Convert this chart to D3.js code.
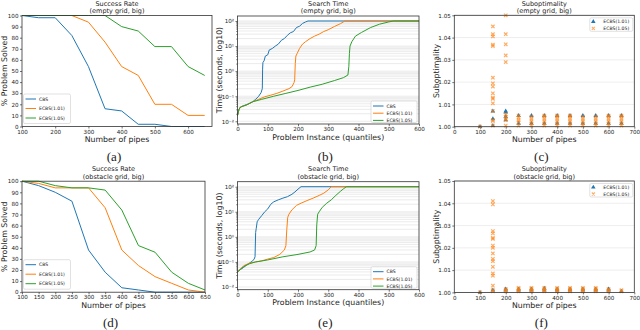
<!DOCTYPE html>
<html>
<head>
<meta charset="utf-8">
<script src="https://cdn.jsdelivr.net/npm/d3@7"></script>
<style>
body { margin: 0; background: #fff; }
svg { display: block; }
text { font-family: "DejaVu Sans", sans-serif; fill: #222; }
</style>
</head>
<body>
<svg id="fig" width="640" height="330"></svg>
<script>
// ---- data ----
var pipes = [100, 150, 200, 250, 300, 350, 400, 450, 500, 550, 600, 650];
var seriesNames = ['CBS', 'ECBS(1.01)', 'ECBS(1.05)'];
var colors = ['#1f77b4', '#ff7f0e', '#2ca02c'];

// success rate, empty grid
var succEmptyCBS = [100, 98, 98, 82, 54, 16, 14, 2, 2, 0, 0, 0];
var succEmptyE101 = [100, 100, 100, 100, 94, 76, 54, 46, 20, 20, 10, 10];
var succEmptyE105 = [100, 100, 100, 100, 100, 100, 90, 86, 72, 72, 54, 46];
// success rate, obstacle grid
var succObstCBS = [100, 96, 90, 82, 38, 18, 4, 2, 0, 0, 0, 0];
var succObstE101 = [100, 98, 94, 94, 94, 76, 38, 24, 14, 8, 2, 0];
var succObstE105 = [100, 100, 96, 94, 94, 92, 74, 42, 36, 18, 8, 2];

// search time [instance, seconds], empty grid
var timeEmptyCBS = [[0,0.017],[5,0.03],[10,0.037],[20,0.042],[30,0.046],[40,0.052],[50,0.06],[60,0.075],[70,0.1],[78,0.14],[82,0.2],[83,1.2],[84,2.2],[88,2.6],[92,4],[100,4.5],[105,7],[115,8],[125,10],[135,12],[145,17],[155,20],[165,27],[175,34],[185,38],[195,55],[205,62],[215,80],[225,92],[233,100],[600,100]];
var timeEmptyE101 = [[0,0.017],[5,0.03],[10,0.037],[30,0.045],[50,0.06],[70,0.075],[90,0.095],[110,0.11],[130,0.13],[150,0.16],[170,0.2],[180,0.24],[187,0.35],[189,0.45],[191,2],[193,4],[197,5],[205,8],[215,12],[225,15],[240,20],[255,25],[270,30],[285,38],[300,45],[320,60],[340,78],[355,100],[600,100]];
var timeEmptyE105 = [[0,0.017],[5,0.03],[10,0.037],[30,0.045],[50,0.06],[80,0.075],[120,0.1],[160,0.13],[200,0.17],[240,0.23],[280,0.3],[320,0.42],[350,0.55],[365,0.7],[368,1.5],[370,5],[372,10],[378,15],[390,25],[410,35],[440,55],[470,75],[500,92],[515,100],[600,100]];
// search time, obstacle grid
var timeObstCBS = [[0,0.04],[10,0.05],[20,0.06],[30,0.075],[40,0.09],[50,0.11],[55,0.13],[58,0.16],[60,1.5],[62,2.2],[65,4],[70,5],[80,7],[90,10],[100,13],[110,20],[120,25],[135,30],[150,35],[165,40],[180,50],[190,62],[200,80],[210,100],[600,100]];
var timeObstE101 = [[0,0.04],[20,0.07],[40,0.09],[60,0.1],[80,0.11],[100,0.13],[120,0.15],[140,0.2],[155,0.3],[160,0.45],[163,2],[166,6],[170,8],[180,12],[195,18],[210,22],[230,28],[250,35],[270,45],[285,55],[300,75],[310,100],[600,100]];
var timeObstE105 = [[0,0.04],[20,0.065],[40,0.085],[60,0.1],[100,0.12],[150,0.16],[200,0.2],[240,0.25],[255,0.3],[260,0.45],[262,3],[265,8],[270,10],[280,15],[295,22],[310,30],[325,45],[340,65],[350,82],[360,100],[600,100]];

// suboptimality [pipes, ratio], empty grid
var subEmptyE101 = [[100,1.000],[150,1.007],[150,1.0035],[150,1.0005],[200,1.007],[200,1.0065],[200,1.0045],[200,1.003],
  [250,1.005],[250,1.0015],[300,1.005],[300,1.0015],[350,1.005],[350,1.0015],[400,1.005],[400,1.0015],[450,1.005],[450,1.0015],
  [500,1.005],[500,1.0015],[550,1.005],[550,1.0015],[600,1.005],[600,1.0015],[650,1.005],[650,1.0015]];
var subEmptyE105 = [[100,1.000],
  [150,1.045],[150,1.0415],[150,1.0405],[150,1.0368],[150,1.0362],[150,1.022],[150,1.0195],[150,1.018],[150,1.015],[150,1.013],[150,1.0125],[150,1.0105],[150,1.007],[150,1.003],[150,1.0025],[150,1.0005],
  [200,1.050],[200,1.0415],[200,1.037],[200,1.032],[200,1.029],[200,1.0055],[200,1.0045],[200,1.0035],[200,1.003],[200,1.0005],
  [250,1.0005],[250,1.002],[250,1.003],[250,1.004],[250,1.005],
  [300,1.0005],[300,1.0015],[300,1.0025],[300,1.0035],[300,1.0045],
  [350,1.0005],[350,1.0015],[350,1.0025],[350,1.0035],[350,1.0045],[350,1.005],
  [400,1.0005],[400,1.0015],[400,1.0025],[400,1.0035],[400,1.0045],[400,1.005],
  [450,1.0005],[450,1.0015],[450,1.0025],[450,1.0035],[450,1.0045],[450,1.005],
  [500,1.0005],[500,1.0015],[500,1.0025],[500,1.0035],[500,1.0045],
  [550,1.0005],[550,1.0015],[550,1.0025],[550,1.0035],[550,1.0045],
  [600,1.0005],[600,1.0015],[600,1.0025],[600,1.0035],[600,1.0045],[600,1.005],
  [650,1.0005],[650,1.0015],[650,1.0025],[650,1.0035],[650,1.0045],[650,1.005]];
// suboptimality, obstacle grid
var subObstE101 = [[100,1.000],[150,1.001],[200,1.001],[200,1.0015],[250,1.001],[250,1.0015],[300,1.001],[300,1.0015],[350,1.001],[350,1.0018],
  [400,1.001],[400,1.0015],[450,1.001],[450,1.0015],[500,1.001],[500,1.0015],[550,1.001],[550,1.0015],[600,1.001],[600,1.0015],[650,1.0005]];
var subObstE105 = [[100,1.000],
  [150,1.041],[150,1.0395],[150,1.0275],[150,1.0265],[150,1.0245],[150,1.024],[150,1.021],[150,1.020],[150,1.0175],[150,1.015],[150,1.014],[150,1.0115],[150,1.0085],[150,1.0075],[150,1.003],[150,1.001],[150,1.0005],
  [200,1.0005],[200,1.001],[200,1.0015],[250,1.0005],[250,1.001],[250,1.0015],[250,1.002],
  [300,1.0005],[300,1.001],[300,1.0015],[300,1.002],[350,1.0005],[350,1.001],[350,1.0015],[350,1.002],
  [400,1.0005],[400,1.001],[400,1.0015],[400,1.002],[450,1.0005],[450,1.001],[450,1.0015],[450,1.002],
  [500,1.0005],[500,1.001],[500,1.0015],[500,1.002],[550,1.0005],[550,1.001],[550,1.0015],[550,1.002],
  [600,1.0005],[600,1.001],[600,1.0015],[650,1.0005],[650,1.001]];

var subTitleEmpty = '(empty grid, big)';
var subTitleObst = '(obstacle grid, big)';

// ---- layout ----
var svg = d3.select('#fig');
var rowShift = 165.7;
var boxA = { x0: 22, x1: 212, y0: 15.5, y1: 126.5 };
var boxB = { x0: 237.5, x1: 419, y0: 16, y1: 124 };
var boxC = { x0: 454.3, x1: 634.3, y0: 15.3, y1: 126.7 };

function shift(box, dy) {
	return { x0: box.x0, x1: box.x1, y0: box.y0 + dy, y1: box.y1 + dy, row: dy };
}

function styleAxis(sel) {
	sel.select('.domain').remove();
	sel.selectAll('line').attr('stroke', '#333').attr('stroke-width', 0.7);
	sel.selectAll('text').attr('font-size', '5.6px').attr('fill', '#333');
}

function frame(box) {
	svg.append('rect')
		.attr('x', box.x0).attr('y', box.y0)
		.attr('width', box.x1 - box.x0).attr('height', box.y1 - box.y0)
		.attr('fill', 'none').attr('stroke', '#333').attr('stroke-width', 0.8);
}

function labels(box, title, sub, xlab, ylab, letter) {
	var cx = (box.x0 + box.x1) / 2;
	var top = box.row || 0;
	svg.append('text').attr('x', cx).attr('y', top + 5.5)
		.attr('text-anchor', 'middle').attr('font-size', '6.5px').text(title);
	svg.append('text').attr('x', cx).attr('y', top + 13.1)
		.attr('text-anchor', 'middle').attr('font-size', '6.5px').text(sub);
	svg.append('text').attr('x', cx).attr('y', box.y1 + 15.5)
		.attr('text-anchor', 'middle').attr('font-size', '7.8px').text(xlab);
	svg.append('text')
		.attr('transform', 'translate(' + (box.x0 - 15.5) + ',' + ((box.y0 + box.y1) / 2) + ') rotate(-90)')
		.attr('text-anchor', 'middle').attr('font-size', '7.8px').text(ylab);
	svg.append('text').attr('x', cx - 3).attr('y', top + 161)
		.attr('text-anchor', 'middle').attr('font-size', '13px')
		.style('font-family', '"Liberation Serif", serif').text(letter);
}

function legendBox(x, y, w, h) {
	svg.append('rect').attr('x', x).attr('y', y).attr('width', w).attr('height', h)
		.attr('rx', 1.5).attr('fill', '#fff').attr('fill-opacity', 0.85)
		.attr('stroke', '#ccc').attr('stroke-width', 0.6);
}

function lineLegend(x, y, w, h, step) {
	legendBox(x, y, w, h);
	seriesNames.forEach(function(name, i) {
		var yy = y + 5 + i * step;
		svg.append('line').attr('x1', x + 2).attr('x2', x + 12.5).attr('y1', yy).attr('y2', yy)
			.attr('stroke', colors[i]).attr('stroke-width', 1);
		svg.append('text').attr('x', x + 15.5).attr('y', yy + 1.6)
			.attr('font-size', '4.6px').text(name);
	});
}

// ---- success rate panels ----
function successPanel(box, xmax, data, sub, letter, ticks) {
	var x = d3.scaleLinear().domain([100, xmax]).range([box.x0, box.x1]);
	var y = d3.scaleLinear().domain([0, 100]).range([box.y1, box.y0]);
	svg.append('g').attr('transform', 'translate(0,' + box.y1 + ')')
		.call(d3.axisBottom(x).tickValues(ticks).tickSize(2).tickPadding(1.2)).call(styleAxis);
	svg.append('g').attr('transform', 'translate(' + box.x0 + ',0)')
		.call(d3.axisLeft(y).tickValues(d3.range(0, 101, 10)).tickSize(2).tickPadding(1.5)).call(styleAxis);
	var line = d3.line().x(function(d, i) { return x(pipes[i]); }).y(function(d) { return y(d); });
	data.forEach(function(s, i) {
		svg.append('path').datum(s).attr('d', line).attr('fill', 'none')
			.attr('stroke', colors[i]).attr('stroke-width', 1);
	});
	frame(box);
	labels(box, 'Success Rate', sub, 'Number of pipes', '% Problem Solved', letter);
	lineLegend(box.x0 + 1.5, box.y1 - 32.5, 47, 29.5, 9.5);
}

// ---- search time panels ----
function pow10(e) {
	return e < 0 ? '\u207b' + ['\u2070','\u00b9','\u00b2'][-e] : ['\u2070','\u00b9','\u00b2'][e];
}

function timePanel(box, data, sub, letter) {
	var x = d3.scaleLinear().domain([0, 600]).range([box.x0, box.x1]);
	var y = d3.scaleLog().domain([Math.pow(10, -2.108), Math.pow(10, 2.2)]).range([box.y1, box.y0]);
	var minor = [];
	[0.01, 0.1, 1, 10].forEach(function(d) { for (var k = 2; k <= 9; k++) minor.push(d * k); });
	var majors = [0.01, 0.1, 1, 10, 100];
	svg.append('g').selectAll('line').data(minor.concat(majors)).join('line')
		.attr('x1', box.x0).attr('x2', box.x1)
		.attr('y1', function(d) { return y(d); }).attr('y2', function(d) { return y(d); })
		.attr('stroke', '#e3e3e3').attr('stroke-width', 0.7);
	svg.append('g').attr('transform', 'translate(0,' + box.y1 + ')')
		.call(d3.axisBottom(x).tickValues(d3.range(0, 601, 100)).tickSize(2).tickPadding(1.2)).call(styleAxis);
	svg.append('g').attr('transform', 'translate(' + box.x0 + ',0)')
		.call(d3.axisLeft(y).tickValues(minor).tickSize(1.2).tickFormat('')).call(styleAxis);
	svg.append('g').attr('transform', 'translate(' + box.x0 + ',0)')
		.call(d3.axisLeft(y).tickValues(majors).tickSize(2).tickPadding(1.5)
			.tickFormat(function(d) { return '10' + pow10(Math.round(Math.log10(d))); }))
		.call(styleAxis);
	var line = d3.line().x(function(d) { return x(d[0]); }).y(function(d) { return y(d[1]); });
	data.forEach(function(s, i) {
		svg.append('path').datum(s).attr('d', line).attr('fill', 'none')
			.attr('stroke', colors[i]).attr('stroke-width', 1);
	});
	frame(box);
	labels(box, 'Search Time', sub, 'Problem Instance (quantiles)', 'Time (seconds, log10)', letter);
	lineLegend(box.x1 - 48, box.y1 - 23, 46, 21.5, 7.2);
}

// ---- suboptimality panels ----
var tri = d3.symbol().type(d3.symbolTriangle).size(9);
function xMark(s) { return 'M' + -s + ',' + -s + 'L' + s + ',' + s + 'M' + -s + ',' + s + 'L' + s + ',' + -s; }

function subPanel(box, d101, d105, sub, letter) {
	var x = d3.scaleLinear().domain([0, 700]).range([box.x0, box.x1]);
	var y = d3.scaleLinear().domain([1.0, 1.05]).range([box.y1, box.y0]);
	var yt = [1.0, 1.01, 1.02, 1.03, 1.04, 1.05];
	svg.append('g').selectAll('line').data(yt).join('line')
		.attr('x1', box.x0).attr('x2', box.x1)
		.attr('y1', function(d) { return y(d); }).attr('y2', function(d) { return y(d); })
		.attr('stroke', '#e6e6e6').attr('stroke-width', 0.7);
	svg.append('g').attr('transform', 'translate(0,' + box.y1 + ')')
		.call(d3.axisBottom(x).tickValues(d3.range(0, 701, 100)).tickSize(2).tickPadding(1.2)).call(styleAxis);
	svg.append('g').attr('transform', 'translate(' + box.x0 + ',0)')
		.call(d3.axisLeft(y).tickValues(yt).tickSize(2).tickPadding(1.5).tickFormat(d3.format('.2f'))).call(styleAxis);
	svg.append('g').selectAll('path').data(d101).join('path')
		.attr('transform', function(d) { return 'translate(' + x(d[0]) + ',' + y(d[1]) + ')'; })
		.attr('d', tri).attr('fill', colors[0]);
	svg.append('g').selectAll('path').data(d105).join('path')
		.attr('transform', function(d) { return 'translate(' + x(d[0]) + ',' + y(d[1]) + ')'; })
		.attr('d', xMark(1.7)).attr('fill', 'none').attr('stroke', colors[1])
		.attr('stroke-opacity', 0.65).attr('stroke-width', 1.2);
	frame(box);
	labels(box, 'Suboptimality', sub, 'Number of pipes', 'Suboptimality', letter);
	legendBox(box.x1 - 44.5, box.y0 + 2.5, 43, 13.5);
	var lx = box.x1 - 41;
	svg.append('path').attr('transform', 'translate(' + lx + ',' + (box.y0 + 6.3) + ')').attr('d', tri).attr('fill', colors[0]);
	svg.append('path').attr('transform', 'translate(' + lx + ',' + (box.y0 + 13) + ')').attr('d', xMark(1.5))
		.attr('fill', 'none').attr('stroke', colors[1]).attr('stroke-opacity', 0.65).attr('stroke-width', 1.1);
	svg.append('text').attr('x', box.x1 - 31).attr('y', box.y0 + 8).attr('font-size', '4.6px').text('ECBS(1.01)');
	svg.append('text').attr('x', box.x1 - 31).attr('y', box.y0 + 14.6).attr('font-size', '4.6px').text('ECBS(1.05)');
}

successPanel(boxA, 672, [succEmptyCBS, succEmptyE101, succEmptyE105], subTitleEmpty, '(a)', d3.range(100, 601, 100));
timePanel(boxB, [timeEmptyCBS, timeEmptyE101, timeEmptyE105], subTitleEmpty, '(b)');
subPanel(boxC, subEmptyE101, subEmptyE105, subTitleEmpty, '(c)');

var boxD = { x0: 22, x1: 205, y0: boxA.y0 + rowShift, y1: boxA.y1 + rowShift, row: rowShift };
successPanel(boxD, 650, [succObstCBS, succObstE101, succObstE105], subTitleObst, '(d)', d3.range(100, 651, 50));
timePanel(shift(boxB, rowShift), [timeObstCBS, timeObstE101, timeObstE105], subTitleObst, '(e)');
subPanel(shift(boxC, rowShift), subObstE101, subObstE105, subTitleObst, '(f)');
</script>
</body>
</html>
